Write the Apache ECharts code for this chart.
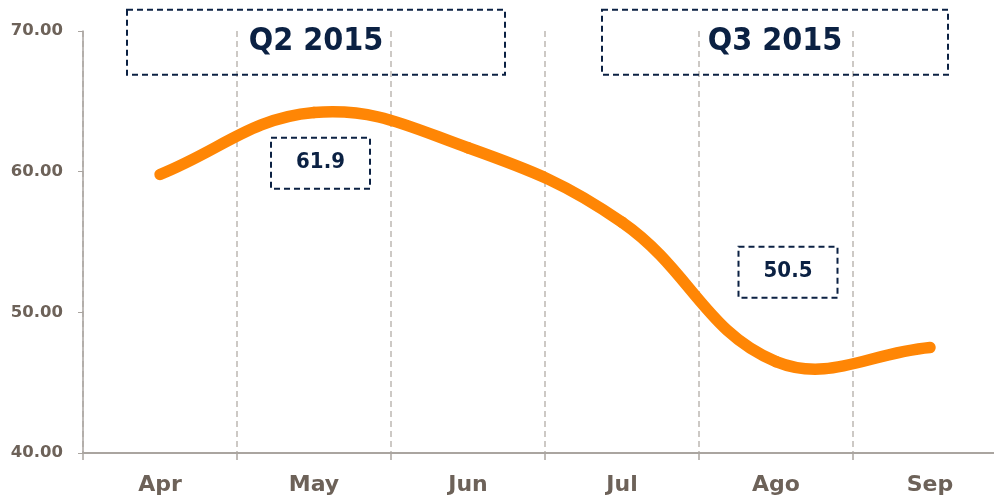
<!DOCTYPE html>
<html>
<head>
<meta charset="utf-8">
<script src="https://cdn.jsdelivr.net/npm/echarts@6/dist/echarts.min.js"></script>
<style>
html, body { margin: 0; padding: 0; background: #fff; }
#chart { width: 994px; height: 502px; }
</style>
</head>
<body>
<div id="chart"></div>
<script>
// datos
var months = ["Apr", "May", "Jun", "Jul", "Ago", "Sep"];
var values = [59.8, 64.2, 61.7, 56.4, 46.5, 47.5];
var quarterNames = ["Q2 2015", "Q3 2015"];
var quarterMonths = ["May", "Ago"];
var quarterAvg = ["61.9", "50.5"];
var yTicks = [40, 50, 60, 70];

var navy = "#0b2143";
var axisGray = "#aaa5a0";
var labelColor = "#6d6259";
var orange = "#ff8605";
var tension = 0.4;

// posicion de las cajas (solo maquetacion)
var titleBox = { level: 69.2, w: [378, 346], h: 65, dx: [2, -1], size: 32 };
var avgBox = { level: [60.6, 52.85], w: 99, h: 51, dx: [6.5, 12], size: 22 };

var chart = echarts.init(document.getElementById("chart"));

// puntos de control estilo spline cardinal
function controlPoints(p0, p1, p2) {
    var d01 = Math.sqrt(Math.pow(p1[0] - p0[0], 2) + Math.pow(p1[1] - p0[1], 2));
    var d12 = Math.sqrt(Math.pow(p2[0] - p1[0], 2) + Math.pow(p2[1] - p1[1], 2));
    var s01 = d01 / (d01 + d12) || 0;
    var s12 = d12 / (d01 + d12) || 0;
    var fa = tension * s01;
    var fb = tension * s12;
    return [
        [p1[0] - fa * (p2[0] - p0[0]), p1[1] - fa * (p2[1] - p0[1])],
        [p1[0] + fb * (p2[0] - p0[0]), p1[1] + fb * (p2[1] - p0[1])]
    ];
}

function renderLine(params, api) {
    var i = params.dataIndex;
    var n = values.length;
    if (i >= n - 1) {
        return;
    }
    var pt = function (k) {
        k = Math.max(0, Math.min(n - 1, k));
        return api.coord([k, values[k]]);
    };
    var p0 = pt(i - 1), p1 = pt(i), p2 = pt(i + 1), p3 = pt(i + 2);
    var c1 = controlPoints(p0, p1, p2)[1];
    var c2 = controlPoints(p1, p2, p3)[0];
    return {
        type: "bezierCurve",
        shape: {
            x1: p1[0], y1: p1[1],
            x2: p2[0], y2: p2[1],
            cpx1: c1[0], cpy1: c1[1],
            cpx2: c2[0], cpy2: c2[1]
        },
        style: {
            stroke: orange,
            fill: null,
            lineWidth: 11.5,
            lineCap: "round",
            lineJoin: "round"
        }
    };
}

function dashedBox(cx, cy, w, h, text, size) {
    return {
        type: "group",
        children: [
            {
                type: "rect",
                shape: { x: cx - w / 2, y: cy - h / 2, width: w, height: h },
                style: {
                    fill: null,
                    stroke: navy,
                    lineWidth: 2,
                    lineDash: [6, 4]
                }
            },
            {
                type: "text",
                x: cx,
                y: cy - 1,
                style: {
                    text: text,
                    fill: navy,
                    font: "bold " + size + "px 'DejaVu Sans Condensed'",
                    align: "center",
                    verticalAlign: "middle"
                }
            }
        ]
    };
}

function renderBoxes(params, api) {
    var i = params.dataIndex;
    var k = months.indexOf(quarterMonths[i]);
    var top = api.coord([k, titleBox.level]);
    var mid = api.coord([k, avgBox.level[i]]);
    return {
        type: "group",
        children: [
            dashedBox(top[0] + titleBox.dx[i], top[1], titleBox.w[i], titleBox.h, quarterNames[i], titleBox.size),
            dashedBox(mid[0] + avgBox.dx[i], mid[1], avgBox.w, avgBox.h, quarterAvg[i], avgBox.size)
        ]
    };
}

var option = {
    animation: false,
    grid: {
        left: 83,
        top: 31,
        width: 924,
        height: 422,
        outerBoundsMode: "none",
        containLabel: false
    },
    xAxis: {
        type: "category",
        data: months,
        boundaryGap: true,
        axisLine: { lineStyle: { color: axisGray, width: 2 } },
        axisTick: { show: true, length: 7, lineStyle: { color: axisGray, width: 1.5 } },
        splitLine: {
            show: true,
            lineStyle: { color: "#bdb8b3", type: [6, 4], width: 1.5 }
        },
        axisLabel: {
            color: labelColor,
            fontSize: 22,
            fontWeight: "bold",
            fontFamily: "DejaVu Sans",
            margin: 21
        }
    },
    yAxis: {
        type: "value",
        min: yTicks[0],
        max: yTicks[yTicks.length - 1],
        interval: 10,
        axisLine: { show: true, lineStyle: { color: axisGray, width: 1.5 } },
        axisTick: { show: true, length: 5, lineStyle: { color: axisGray } },
        splitLine: { show: false },
        axisLabel: {
            color: labelColor,
            fontSize: 16.5,
            fontWeight: "bold",
            fontFamily: "DejaVu Sans",
            margin: 20,
            formatter: function (v) {
                return v.toFixed(2);
            }
        }
    },
    series: [
        {
            type: "custom",
            silent: true,
            clip: false,
            data: quarterMonths.map(function (m) {
                return [m, titleBox.level];
            }),
            renderItem: renderBoxes
        },
        {
            type: "custom",
            silent: true,
            clip: false,
            data: values.map(function (v, i) {
                return [i, v];
            }),
            renderItem: renderLine
        }
    ]
};

chart.setOption(option);
</script>
</body>
</html>
